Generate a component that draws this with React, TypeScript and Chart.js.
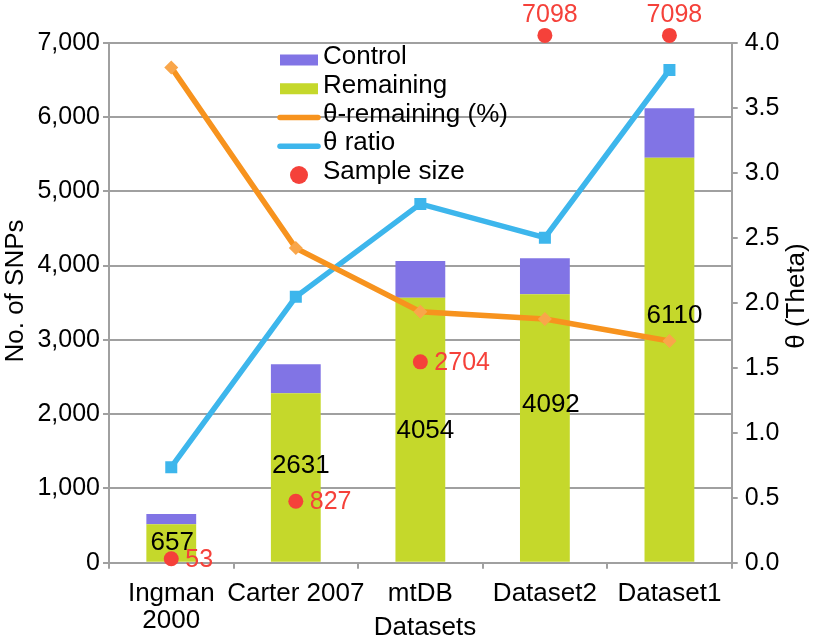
import React, { useEffect, useRef } from 'react';
import { Chart, registerables } from 'chart.js';

Chart.register(...registerables);

const FONT = "'Liberation Sans', Arial, sans-serif";

// ---- data ----
const categories: (string | string[])[] = [['Ingman', '2000'], 'Carter 2007', 'mtDB', 'Dataset2', 'Dataset1'];
const remaining = [517, 2280, 3567, 3613, 5452];
const control = [140, 390, 494, 484, 664];
const totalLabels = ['657', '2631', '4054', '4092', '6110'];
const thetaRemaining = [3.81, 2.42, 1.93, 1.875, 1.705];
const thetaRatio = [0.735, 2.045, 2.76, 2.5, 3.79];
const sampleSize = [53, 827, 2704, 7098, 7098];
const leftMax = 7000;
const rightMax = 4;

// ---- styles ----
const C_CONTROL = '#8174E5';
const C_REMAIN = '#C5D82B';
const C_ORANGE = '#F7931E';
const C_ORANGE_PT = '#F9A64A';
const C_BLUE = '#3DB6EC';
const C_RED = '#F5413A';
const C_GRID = '#A0A0A0';

// pixel nudges for the total labels (styling only)
const totalLabelNudge = [
  { dx: 1, dy: -1 },
  { dx: 5, dy: -12 },
  { dx: 5, dy: 1 },
  { dx: 6, dy: -24 },
  { dx: 5, dy: -44 },
];

const annotationsPlugin = {
  id: 'annotations',
  afterDatasetsDraw(chart: any) {
    const ctx = chart.ctx;
    const y = chart.scales.y;
    const barMeta = chart.getDatasetMeta(0);
    ctx.save();
    // totals
    ctx.font = `26px ${FONT}`;
    ctx.fillStyle = '#000';
    ctx.textAlign = 'center';
    ctx.textBaseline = 'middle';
    totalLabels.forEach((t, i) => {
      const el = barMeta.data[i];
      const py = y.getPixelForValue(remaining[i] / 2) + totalLabelNudge[i].dy;
      ctx.fillText(t, el.x + totalLabelNudge[i].dx, py);
    });
    // sample size labels
    const sMeta = chart.getDatasetMeta(4);
    ctx.font = `25px ${FONT}`;
    ctx.fillStyle = C_RED;
    sampleSize.forEach((v, i) => {
      const p = sMeta.data[i];
      if (v > leftMax) {
        ctx.textAlign = 'center';
        ctx.fillText(String(v), p.x + 5, p.y - 20);
      } else {
        ctx.textAlign = 'left';
        ctx.fillText(String(v), p.x + 14, p.y + 1);
      }
    });
    ctx.restore();
  },
  afterDraw(chart: any) {
    const ctx = chart.ctx;
    const a = chart.chartArea;
    ctx.save();
    ctx.fillStyle = '#000';
    ctx.font = `26px ${FONT}`;
    ctx.textBaseline = 'middle';
    ctx.textAlign = 'center';
    // titles
    ctx.save();
    ctx.translate(16, 291);
    ctx.rotate(-Math.PI / 2);
    ctx.fillText('No. of SNPs', 0, 0);
    ctx.restore();
    ctx.save();
    ctx.translate(797, 296);
    ctx.rotate(-Math.PI / 2);
    ctx.fillText('θ (Theta)', 0, 0);
    ctx.restore();
    ctx.fillText('Datasets', 425, 628);

    // legend
    const lx = a.left + 171;
    const ly = 57;
    const step = 28.75;
    const items = [
      { label: chart.data.datasets[1].label, kind: 'rect', color: C_CONTROL },
      { label: chart.data.datasets[0].label, kind: 'rect', color: C_REMAIN },
      { label: chart.data.datasets[2].label, kind: 'line', color: C_ORANGE },
      { label: chart.data.datasets[3].label, kind: 'line', color: C_BLUE },
      { label: chart.data.datasets[4].label, kind: 'dot', color: C_RED },
    ];
    ctx.textAlign = 'left';
    items.forEach((it, i) => {
      const cy = ly + step * i;
      const my = cy + 3;
      if (it.kind === 'rect') {
        ctx.fillStyle = it.color;
        ctx.fillRect(lx, my - 5.5, 38, 11);
      } else if (it.kind === 'line') {
        ctx.strokeStyle = it.color;
        ctx.lineWidth = 5.5;
        ctx.lineCap = 'round';
        ctx.beginPath();
        ctx.moveTo(lx, my);
        ctx.lineTo(lx + 38, my);
        ctx.stroke();
      } else {
        ctx.fillStyle = it.color;
        ctx.beginPath();
        ctx.arc(lx + 19, my, 9, 0, Math.PI * 2);
        ctx.fill();
      }
      ctx.fillStyle = '#000';
      ctx.fillText(it.label, lx + 43, cy);
    });
    ctx.restore();
  },
};

export default function App() {
  const ref = useRef<HTMLCanvasElement | null>(null);
  useEffect(() => {
    document.body.style.margin = '0';
    const canvas = ref.current;
    if (!canvas) return;
    const chart = new Chart(canvas, {
      type: 'bar',
      data: {
        labels: categories,
        datasets: [
          {
            type: 'bar',
            label: 'Remaining',
            data: remaining,
            backgroundColor: C_REMAIN,
            stack: 'bars',
            yAxisID: 'y',
            barPercentage: 0.4,
            categoryPercentage: 1,
            order: 3,
          },
          {
            type: 'bar',
            label: 'Control',
            data: control,
            backgroundColor: C_CONTROL,
            stack: 'bars',
            yAxisID: 'y',
            barPercentage: 0.4,
            categoryPercentage: 1,
            order: 3,
          },
          {
            type: 'line',
            label: 'θ-remaining (%)',
            data: thetaRemaining,
            borderColor: C_ORANGE,
            borderWidth: 5.5,
            pointStyle: 'rectRot',
            pointRadius: 7,
            pointBackgroundColor: C_ORANGE_PT,
            pointBorderWidth: 0,
            tension: 0,
            yAxisID: 'y1',
            order: 1,
          },
          {
            type: 'line',
            label: 'θ ratio',
            data: thetaRatio,
            borderColor: C_BLUE,
            borderWidth: 5.5,
            pointStyle: 'rect',
            pointRadius: 8.5,
            pointBackgroundColor: C_BLUE,
            pointBorderWidth: 0,
            tension: 0,
            yAxisID: 'y1',
            order: 2,
          },
          {
            type: 'line',
            label: 'Sample size',
            data: sampleSize,
            showLine: false,
            pointRadius: 7.5,
            pointBackgroundColor: C_RED,
            pointBorderWidth: 0,
            stack: 'samples',
            yAxisID: 'y',
            clip: false,
            order: 0,
          } as any,
        ],
      },
      options: {
        responsive: false,
        animation: false,
        events: [],
        layout: { padding: { top: 42.7, left: 0, right: 0, bottom: 0 } },
        plugins: {
          legend: { display: false },
          tooltip: { enabled: false },
          title: { display: false },
        },
        scales: {
          x: {
            type: 'category',
            stacked: true,
            offset: true,
            grid: {
              display: true,
              drawOnChartArea: false,
              drawTicks: true,
              tickLength: 6,
              color: C_GRID,
              lineWidth: 2,
              offset: true,
            },
            border: { display: true, color: C_GRID, width: 2 },
            ticks: {
              font: { family: FONT, size: 26, lineHeight: 1.05 },
              color: '#000',
              padding: 11,
              maxRotation: 0,
              autoSkip: false,
            },
            afterFit: (s: any) => {
              s.height = 80.3;
            },
          },
          y: {
            type: 'linear',
            position: 'left',
            stacked: true,
            min: 0,
            max: leftMax,
            ticks: {
              stepSize: 1000,
              font: { family: FONT, size: 25 },
              color: '#000',
              padding: 3,
              callback: (v: any) => Number(v).toLocaleString('en-US'),
            },
            grid: { color: C_GRID, lineWidth: 2, tickLength: 6 },
            border: { color: C_GRID, width: 2 },
            afterFit: (s: any) => {
              s.width = 109;
            },
          },
          y1: {
            type: 'linear',
            position: 'right',
            min: 0,
            max: rightMax,
            ticks: {
              stepSize: 0.5,
              font: { family: FONT, size: 25 },
              color: '#000',
              padding: 7,
              callback: (v: any) => Number(v).toFixed(1),
            },
            grid: { drawOnChartArea: false, color: C_GRID, lineWidth: 2, tickLength: 6 },
            border: { color: C_GRID, width: 2 },
            afterFit: (s: any) => {
              s.width = 85.3;
            },
          },
        },
      } as any,
      plugins: [annotationsPlugin],
    });
    return () => chart.destroy();
  }, []);
  return (
    <div style={{ width: 817, height: 643, background: '#fff' }}>
      <canvas ref={ref} width={817} height={643} style={{ display: 'block' }} />
    </div>
  );
}
